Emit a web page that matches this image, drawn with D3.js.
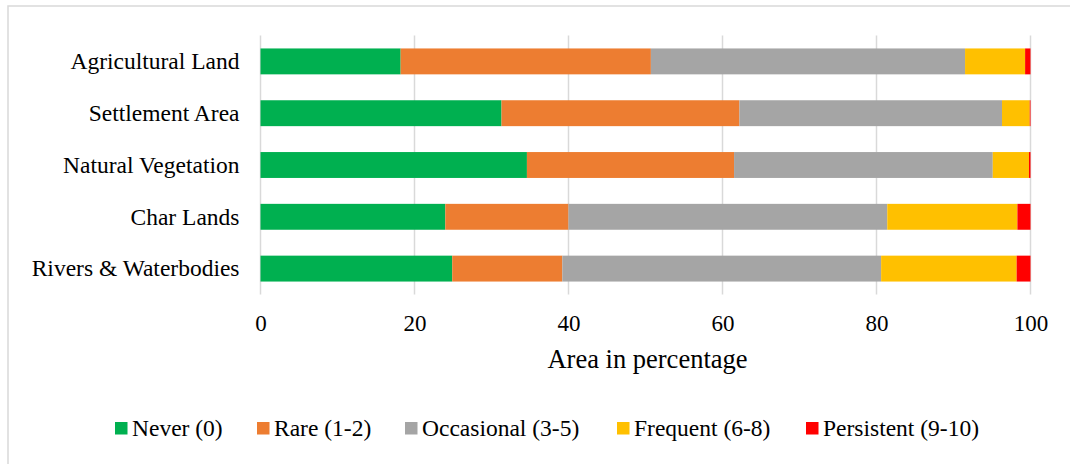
<!DOCTYPE html>
<html>
<head>
<meta charset="utf-8">
<script src="https://cdn.jsdelivr.net/npm/d3@7"></script>
<style>
  html, body { margin: 0; padding: 0; background: #fff; }
  svg { display: block; font-family: "Liberation Serif", "Times New Roman", serif; }
</style>
</head>
<body>
<svg id="chart" width="1070" height="464"></svg>
<script>
// Land-cover classes (top to bottom) and flood-frequency classes
const categories = ["Agricultural Land", "Settlement Area", "Natural Vegetation", "Char Lands", "Rivers & Waterbodies"];
const seriesNames = ["Never (0)", "Rare (1-2)", "Occasional (3-5)", "Frequent (6-8)", "Persistent (9-10)"];
const seriesColors = ["#00B050", "#ED7D31", "#A5A5A5", "#FFC000", "#FF0000"];

// Area share (%) of each frequency class, one array per class, in category order
const never      = [18.2, 31.3, 34.6, 24.0, 24.9];
const rare       = [32.5, 30.9, 26.9, 16.0, 14.3];
const occasional = [40.8, 34.1, 33.6, 41.4, 41.4];
const frequent   = [7.8, 3.6, 4.7, 16.9, 17.6];
const persistent = [0.7, 0.1, 0.2, 1.7, 1.8];

const xTicks = [0, 20, 40, 60, 80, 100];
const xTitle = "Area in percentage";

const seriesValues = [never, rare, occasional, frequent, persistent];
const rows = categories.map((c, i) => {
  const r = { category: c };
  seriesNames.forEach((s, j) => { r[s] = seriesValues[j][i]; });
  return r;
});

const serif = "Liberation Serif, Times New Roman, serif";
const svg = d3.select("#chart");

// chart frame
svg.append("rect")
  .attr("x", 8).attr("y", 6)
  .attr("width", 1080).attr("height", 480)
  .attr("fill", "none").attr("stroke", "#d9d9d9").attr("stroke-width", 1.5);

const plot = { left: 260.5, right: 1030.5, top: 35.5, bottom: 294.5 };

const x = d3.scaleLinear().domain([0, 100]).range([plot.left, plot.right]);
const y = d3.scaleBand().domain(categories)
  .range([plot.top, plot.bottom])
  .paddingInner(0.5).paddingOuter(0.25);

// vertical gridlines
svg.append("g").selectAll("line").data(xTicks).join("line")
  .attr("x1", d => x(d)).attr("x2", d => x(d))
  .attr("y1", plot.top).attr("y2", plot.bottom)
  .attr("stroke", "#d9d9d9").attr("stroke-width", 1.5);

// stacked bars
const stack = d3.stack().keys(seriesNames)(rows);
svg.append("g").selectAll("g").data(stack).join("g")
  .attr("fill", (d, i) => seriesColors[i])
  .selectAll("rect").data(d => d).join("rect")
  .attr("x", d => x(d[0]))
  .attr("width", d => x(d[1]) - x(d[0]))
  .attr("y", d => y(d.data.category))
  .attr("height", y.bandwidth());

// category axis labels
const yAxis = svg.append("g")
  .attr("transform", `translate(${plot.left},0)`)
  .call(d3.axisLeft(y).tickSize(0).tickPadding(21));
yAxis.attr("font-family", serif);
yAxis.select(".domain").remove();
yAxis.selectAll("text")
  .attr("font-size", "23.5px")
  .attr("fill", "#000")
  .attr("dy", "0.33em");

// value axis labels
const xAxis = svg.append("g")
  .attr("transform", `translate(0,${plot.bottom})`)
  .call(d3.axisBottom(x).tickValues(xTicks).tickSize(0).tickPadding(0).tickFormat(d3.format("d")));
xAxis.attr("font-family", serif);
xAxis.select(".domain").remove();
xAxis.selectAll("text")
  .attr("font-size", "23px")
  .attr("fill", "#000")
  .attr("dy", null)
  .attr("y", 36.5);

// axis title
svg.append("text")
  .attr("x", (plot.left + plot.right) / 2 + 2)
  .attr("y", 367.5)
  .attr("text-anchor", "middle")
  .attr("font-family", serif)
  .attr("font-size", "26.5px")
  .attr("fill", "#000")
  .text(xTitle);

// legend: swatch left edges along one row
const legendX = [115, 257, 405, 617, 806];
const legend = svg.append("g").attr("font-family", serif);
seriesNames.forEach((name, i) => {
  legend.append("rect")
    .attr("x", legendX[i]).attr("y", 422)
    .attr("width", 12.5).attr("height", 12.5)
    .attr("fill", seriesColors[i]);
  legend.append("text")
    .attr("x", legendX[i] + 17).attr("y", 436)
    .attr("font-size", "23.5px")
    .attr("fill", "#000")
    .text(name);
});
</script>
</body>
</html>
